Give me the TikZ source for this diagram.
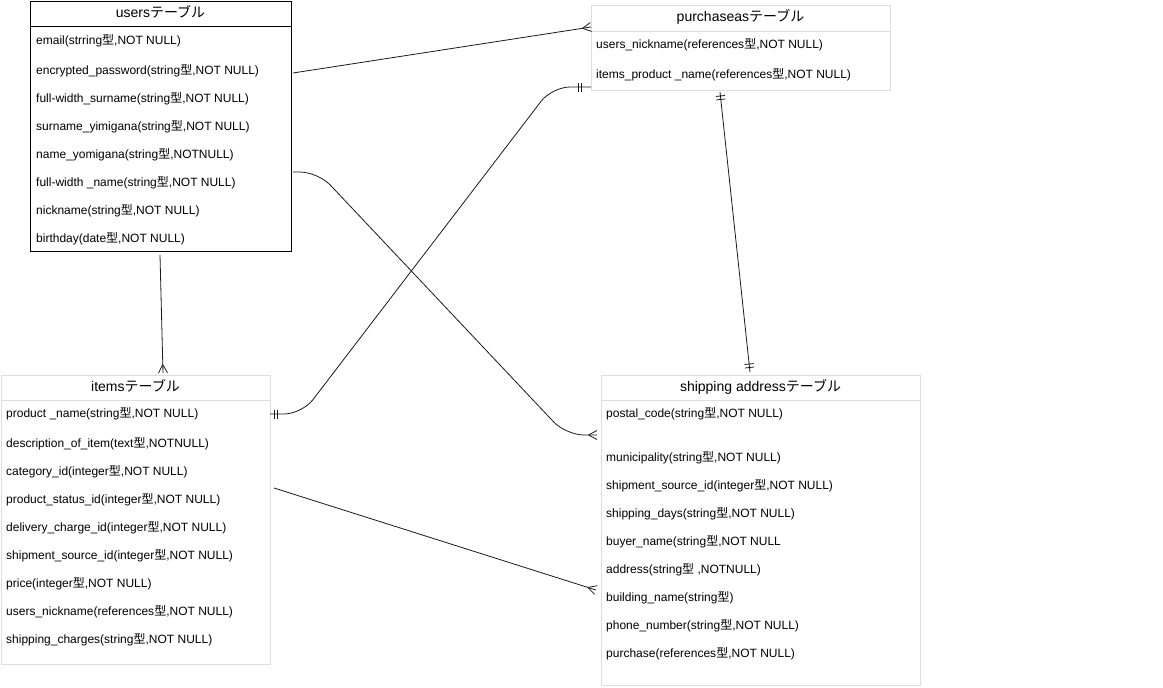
\documentclass[tikz,border=0pt]{standalone}
\usepackage{fontspec}
\setmainfont{Liberation Sans}
\newfontfamily\jp{Noto Sans CJK JP}
\usetikzlibrary{decorations.markings,calc}
\newcommand\kata{{\jp 型}}
\newcommand\tbl{{\jp テーブル}}
\tikzset{
  tablebox/.style={draw=black!13, line width=0.8pt, fill=white},
  userbox/.style={draw=black, line width=1pt, fill=white},
  sepline/.style={draw=black!13, line width=0.8pt},
  usersep/.style={draw=black, line width=1pt},
  headtext/.style={font=\fontsize{14}{16}\selectfont, inner sep=0pt, text height=10pt, text depth=3pt},
  rowtext/.style={font=\fontsize{12}{14}\selectfont, anchor=west, inner sep=0pt, text height=10pt, text depth=2pt},
  conn/.style={draw=black!90, line width=0.8pt},
  crow/.style={postaction={decorate, decoration={markings,
      mark=at position -0.01pt with {\draw[conn] (-8.5,0) -- (0,4.5) (-8.5,0) -- (0,-4.5);}}}},
  twobar/.style={postaction={decorate, decoration={markings,
      mark=at position #1 with {\draw[conn] (0,-4.5) -- (0,4.5) (3.5,-4.5) -- (3.5,4.5);}}}},
}
\begin{document}
\begin{tikzpicture}[x=1pt,y=-1pt]
\useasboundingbox (0,0) rectangle (1163,688);

% users table
\node[userbox, anchor=north west, minimum width=261pt, minimum height=250pt, inner sep=0pt] (users) at (30,1) {};
\draw[usersep] ($(users.north west)+(0,25)$) -- ($(users.north east)+(0,25)$);
\node[headtext] (usersh) at (160.5,13.5) {users\tbl};
\node[rowtext] (u1) at (36,40) {email(strring\kata,NOT NULL)};
\node[rowtext] (u2) at (36,70) {encrypted\_password(string\kata,NOT NULL)};
\node[rowtext] (u3) at (36,98) {full-width\_surname(string\kata,NOT NULL)};
\node[rowtext] (u4) at (36,126) {surname\_yimigana(string\kata,NOT NULL)};
\node[rowtext] (u5) at (36,154) {name\_yomigana(string\kata,NOTNULL)};
\node[rowtext] (u6) at (36,182) {full-width \_name(string\kata,NOT NULL)};
\node[rowtext] (u7) at (36,210) {nickname(string\kata,NOT NULL)};
\node[rowtext] (u8) at (36,238) {birthday(date\kata,NOT NULL)};

% purchaseas table
\node[tablebox, anchor=north west, minimum width=299pt, minimum height=85pt, inner sep=0pt] (purch) at (591,5) {};
\draw[sepline] ($(purch.north west)+(0,26)$) -- ($(purch.north east)+(0,26)$);
\node[headtext] (purchh) at (740.5,18) {purchaseas\tbl};
\node[rowtext] (p1) at (596,44) {users\_nickname(references\kata,NOT NULL)};
\node[rowtext] (p2) at (596,74) {items\_product \_name(references\kata,NOT NULL)};

% items table
\node[tablebox, anchor=north west, minimum width=269pt, minimum height=289pt, inner sep=0pt] (items) at (1,375) {};
\draw[sepline] ($(items.north west)+(0,25)$) -- ($(items.north east)+(0,25)$);
\node[headtext] (itemsh) at (135.5,387.5) {items\tbl};
\node[rowtext] (i1) at (6,413) {product \_name(string\kata,NOT NULL)};
\node[rowtext] (i2) at (6,443) {description\_of\_item(text\kata,NOTNULL)};
\node[rowtext] (i3) at (6,471) {category\_id(integer\kata,NOT NULL)};
\node[rowtext] (i4) at (6,499) {product\_status\_id(integer\kata,NOT NULL)};
\node[rowtext] (i5) at (6,527) {delivery\_charge\_id(integer\kata,NOT NULL)};
\node[rowtext] (i6) at (6,555) {shipment\_source\_id(integer\kata,NOT NULL)};
\node[rowtext] (i7) at (6,583) {price(integer\kata,NOT NULL)};
\node[rowtext] (i8) at (6,611) {users\_nickname(references\kata,NOT NULL)};
\node[rowtext] (i9) at (6,639) {shipping\_charges(string\kata,NOT NULL)};

% shipping address table
\node[tablebox, anchor=north west, minimum width=319pt, minimum height=310pt, inner sep=0pt] (ship) at (601,375) {};
\draw[sepline] ($(ship.north west)+(0,25)$) -- ($(ship.north east)+(0,25)$);
\node[headtext] (shiph) at (760.5,387.5) {shipping address\tbl};
\node[rowtext] (s1) at (606,413) {postal\_code(string\kata,NOT NULL)};
\node[rowtext] (s2) at (606,457) {municipality(string\kata,NOT NULL)};
\node[rowtext] (s3) at (606,485) {shipment\_source\_id(integer\kata,NOT NULL)};
\node[rowtext] (s4) at (606,513) {shipping\_days(string\kata,NOT NULL)};
\node[rowtext] (s5) at (606,541) {buyer\_name(string\kata,NOT NULL};
\node[rowtext] (s6) at (606,569) {address(string\kata{} ,NOTNULL)};
\node[rowtext] (s7) at (606,597) {building\_name(string\kata)};
\node[rowtext] (s8) at (606,625) {phone\_number(string\kata,NOT NULL)};
\node[rowtext] (s9) at (606,653) {purchase(references\kata,NOT NULL)};

% connector end points
\coordinate (uA) at (293,73);
\coordinate (pA) at (591,27);
\coordinate (iA) at (270,414);
\coordinate (iAc1) at (302,414);
\coordinate (pBc1) at (552,87);
\coordinate (pB) at (591,87);
\coordinate (uB) at (293,172);
\coordinate (uBc1) at (318,172);
\coordinate (sAc1) at (566,435);
\coordinate (sA) at (597,435);
\coordinate (pC) at (720,92);
\coordinate (sB) at (750,372);
\coordinate (uC) at (160,255);
\coordinate (iB) at (163,373);
\coordinate (iC) at (274,488);
\coordinate (sC) at (596,590);

% connectors
\draw[conn, crow] (uA) -- (pA);
\draw[conn, rounded corners=18pt, twobar=4pt, twobar=-13pt] (iA) -- (iAc1) -- (pBc1) -- (pB);
\draw[conn, rounded corners=18pt, crow] (uB) -- (uBc1) -- (sAc1) -- (sA);
\draw[conn, twobar=4pt, twobar=-8pt] (pC) -- (sB);
\draw[conn, crow] (uC) -- (iB);
\draw[conn, crow] (iC) -- (sC);
\end{tikzpicture}
\end{document}
